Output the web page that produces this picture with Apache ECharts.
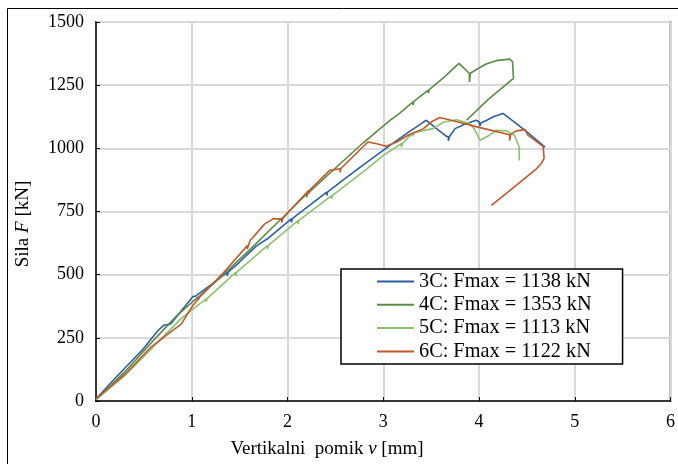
<!DOCTYPE html>
<html>
<head>
<meta charset="utf-8">
<script src="https://cdn.jsdelivr.net/npm/echarts@6/dist/echarts.min.js"></script>
<style>
  html, body { margin: 0; padding: 0; background: #fff; }
  #main { width: 678px; height: 464px; }
</style>
</head>
<body>
<div id="main"></div>
<script>
// displacement v [mm], force F [kN]
const names = ['3C: Fmax = 1138 kN', '4C: Fmax = 1353 kN', '5C: Fmax = 1113 kN', '6C: Fmax = 1122 kN'];
const colors = ['#2B5EA7', '#5A8C45', '#8BC26E', '#C0582A'];

const s3C = [
  [0, 8], [0.2, 90], [0.49, 205], [0.65, 280], [0.71, 300], [0.78, 305], [1.01, 413], [1.04, 415],
  [1.2, 460], [1.37, 509], [1.37, 496], [1.38, 510], [1.5, 550], [1.67, 612], [1.79, 642],
  [2.04, 721], [2.04, 706], [2.05, 722], [2.25, 780], [2.41, 827], [2.41, 813], [2.42, 828],
  [2.6, 880], [2.76, 926], [2.92, 970], [3.07, 1012], [3.25, 1060], [3.42, 1104], [3.45, 1111],
  [3.55, 1080], [3.65, 1050], [3.68, 1045], [3.68, 1030], [3.69, 1046], [3.75, 1078], [3.85, 1095],
  [3.97, 1111], [4.0, 1105], [4.01, 1088], [4.02, 1100], [4.08, 1111], [4.15, 1125], [4.25, 1138],
  [4.35, 1110], [4.5, 1065], [4.69, 1005]
];
const s4C = [
  [0, 5], [0.3, 115], [0.6, 240], [0.85, 340], [1.07, 413], [1.07, 400], [1.08, 414], [1.3, 490],
  [1.61, 600], [1.96, 730], [2.2, 820], [2.2, 806], [2.21, 821], [2.55, 939], [2.8, 1025],
  [3.07, 1111], [3.17, 1138], [3.31, 1184], [3.31, 1171], [3.32, 1186], [3.47, 1230], [3.47, 1218],
  [3.48, 1232], [3.64, 1283], [3.79, 1336], [3.85, 1315], [3.9, 1296], [3.9, 1263], [3.91, 1297],
  [3.99, 1316], [4.08, 1335], [4.18, 1347], [4.32, 1353], [4.35, 1343], [4.36, 1277], [4.1, 1195],
  [3.87, 1111]
];
const s5C = [
  [0, 5], [0.3, 100], [0.6, 215], [0.9, 330], [1.15, 404], [1.15, 392], [1.16, 405], [1.46, 509],
  [1.46, 495], [1.47, 510], [1.79, 615], [1.79, 601], [1.8, 616], [2.11, 714], [2.11, 700],
  [2.12, 715], [2.46, 813], [2.46, 800], [2.47, 814], [2.83, 919], [3.0, 972], [3.19, 1018],
  [3.19, 1005], [3.2, 1019], [3.31, 1061], [3.31, 1048], [3.32, 1062], [3.43, 1071], [3.52, 1078],
  [3.63, 1104], [3.77, 1113], [3.9, 1098], [3.95, 1078], [4.01, 1032], [4.11, 1052], [4.18, 1071],
  [4.29, 1069], [4.37, 1052], [4.42, 1005], [4.42, 952]
];
const s6C = [
  [0, 8], [0.3, 105], [0.57, 212], [0.75, 265], [0.89, 304], [1.01, 377], [1.08, 410], [1.32, 503],
  [1.58, 615], [1.58, 602], [1.61, 635], [1.76, 700], [1.85, 721], [1.94, 721], [1.94, 706],
  [1.95, 722], [2.22, 833], [2.22, 819], [2.23, 834], [2.44, 913], [2.55, 919], [2.55, 905],
  [2.56, 921], [2.84, 1025], [2.93, 1018], [3.03, 1008], [3.14, 1025], [3.26, 1052], [3.42, 1078],
  [3.5, 1104], [3.59, 1122], [3.73, 1109], [4.01, 1082], [4.32, 1054], [4.32, 1031], [4.33, 1055],
  [4.39, 1069], [4.48, 1074], [4.51, 1052], [4.67, 1008], [4.68, 960], [4.65, 940], [4.6, 919],
  [4.43, 866], [4.13, 774]
];
const seriesData = [s3C, s4C, s5C, s6C];

const font = '"Liberation Serif", "Times New Roman", serif';

const chart = echarts.init(document.getElementById('main'), null, { renderer: 'canvas' });

const axisCommon = {
  type: 'value',
  axisLine: { show: true, lineStyle: { color: '#000', width: 1.5 } },
  axisTick: { show: true, inside: true, length: 4, lineStyle: { color: '#000', width: 1 } },
  splitLine: { show: true, lineStyle: { color: '#d9d9d9', width: 2 } },
  axisLabel: { color: '#000', fontFamily: font, fontSize: 18, margin: 12, formatter: v => String(v) }
};

chart.setOption({
  animation: false,
  backgroundColor: '#fff',
  grid: {
    left: 96, right: 6, top: 22, bottom: 63,
    show: true, borderColor: '#000', borderWidth: 1.5
  },
  xAxis: Object.assign({}, axisCommon, { min: 0, max: 6, interval: 1 }),
  yAxis: Object.assign({}, axisCommon, { min: 0, max: 1500, interval: 250 }),
  legend: {
    orient: 'vertical',
    left: 341, top: 269,
    backgroundColor: '#fff',
    borderColor: '#000', borderWidth: 1.5, borderRadius: 0,
    padding: [1, 31, 1, 35],
    itemWidth: 37, itemHeight: 2, itemGap: 0.3,
    textStyle: { color: '#000', fontFamily: font, fontSize: 20.3, lineHeight: 23 },
    data: names
  },
  graphic: [
    {
      type: 'rect', silent: true, z: -10,
      shape: { x: 7.5, y: 8.5, width: 700, height: 500 },
      style: { fill: null, stroke: '#000', lineWidth: 1 }
    },
    {
      type: 'text', x: 327, y: 449,
      style: {
        text: '{a|Vertikalni  pomik }{b|v}{a| [mm]}',
        align: 'center', verticalAlign: 'middle',
        rich: {
          a: { fontFamily: font, fontSize: 19, fill: '#000' },
          b: { fontFamily: font, fontSize: 19, fontStyle: 'italic', fill: '#000' }
        }
      }
    },
    {
      type: 'text', x: 23, y: 224, rotation: Math.PI / 2,
      style: {
        text: '{a|Sila }{b|F}{a| [kN]}',
        align: 'center', verticalAlign: 'middle',
        rich: {
          a: { fontFamily: font, fontSize: 19, fill: '#000' },
          b: { fontFamily: font, fontSize: 19, fontStyle: 'italic', fill: '#000' }
        }
      }
    }
  ],
  series: seriesData.map((d, i) => ({
    name: names[i],
    type: 'line',
    data: d,
    symbol: 'none',
    legendIcon: 'rect',
    color: colors[i],
    itemStyle: { color: colors[i] },
    lineStyle: { width: 1.6, color: colors[i] }
  }))
});
</script>
</body>
</html>
